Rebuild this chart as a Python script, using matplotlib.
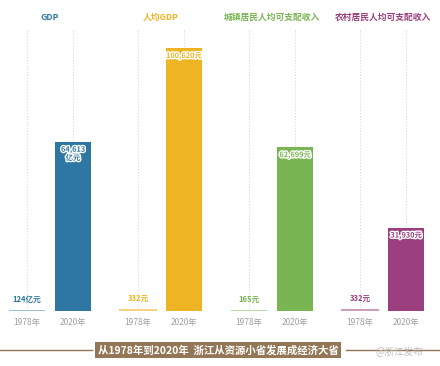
import matplotlib.pyplot as plt
import matplotlib.patheffects as pe
from matplotlib.lines import Line2D

plt.rcParams['font.family'] = ['Noto Sans CJK SC', 'DejaVu Sans']

titles = ['GDP', '人均GDP', '城镇居民人均可支配收入', '农村居民人均可支配收入']
years = ['1978年', '2020年']
values_1978 = [124, 332, 165, 332]
values_2020 = [64613, 100620, 62699, 31930]
labels_1978 = ['124亿元', '332元', '165元', '332元']
labels_2020 = ['64,613\n亿元', '100,620元', '62,699元', '31,930元']
colors = ['#2e77a2', '#efb423', '#79b552', '#9c3f7f']
light = ['#9fbfd3', '#f3d284', '#b9d8a3', '#cd9dbd']


def main():
    fig = plt.figure(figsize=(4.4, 3.66), dpi=100)
    W, H = 440, 366
    base = 311
    top = 30
    ymax = (base - top) * 100620 / 263

    for i in range(4):
        left = 4 + i * 111
        ax = fig.add_axes([left / W, 1 - base / H, 92 / W, (base - top) / H])
        ax.bar([0], [values_1978[i]], width=0.8, color=light[i],
               edgecolor=light[i], linewidth=1.5)
        ax.bar([1], [values_2020[i]], width=0.8, color=colors[i])
        ax.set_xlim(-0.5, 1.5)
        ax.set_ylim(0, ymax)
        ax.set_xticks([0, 1])
        ax.set_xticklabels(years, color='#a0a0a0', fontsize=6)
        ax.tick_params(length=0, pad=5)
        ax.set_yticks([])
        for s in ax.spines.values():
            s.set_visible(False)
        ax.grid(axis='x', color='#d8d8d8', linestyle=':', linewidth=0.8)
        ax.set_axisbelow(True)

        ax.annotate(labels_1978[i], (0, values_1978[i]), xytext=(0, 5),
                    textcoords='offset points', ha='center', va='bottom',
                    fontsize=5.5, color=colors[i], fontweight='bold')
        ax.annotate(labels_2020[i], (1, values_2020[i]), xytext=(0, -3),
                    textcoords='offset points', ha='center', va='top',
                    fontsize=5.3, color=colors[i], fontweight='bold',
                    linespacing=1.1,
                    path_effects=[pe.withStroke(linewidth=2, foreground='white')])

        fig.text((left + 46) / W, 1 - 17 / H, titles[i], ha='center',
                 va='center', fontsize=6.3, color=colors[i], fontweight='bold')

    # bottom banner
    fig.text(218 / W, 1 - 350 / H, '从1978年到2020年  浙江从资源小省发展成经济大省',
             ha='center', va='center', fontsize=7.5, color='white',
             fontweight='bold',
             bbox=dict(boxstyle='square,pad=0.25', facecolor='#927656',
                       edgecolor='none'))
    fig.add_artist(Line2D([0, 92 / W], [1 - 350 / H] * 2, color='#927656',
                          linewidth=1, transform=fig.transFigure))
    fig.add_artist(Line2D([346 / W, 1], [1 - 350 / H] * 2, color='#927656',
                          linewidth=1, transform=fig.transFigure))
    fig.text(400 / W, 1 - 352 / H, '@浙江发布', ha='center', va='center',
             fontsize=7, color='#bbbbbb')

    fig.savefig('out.png', dpi=100, facecolor='white')


if __name__ == '__main__':
    main()
